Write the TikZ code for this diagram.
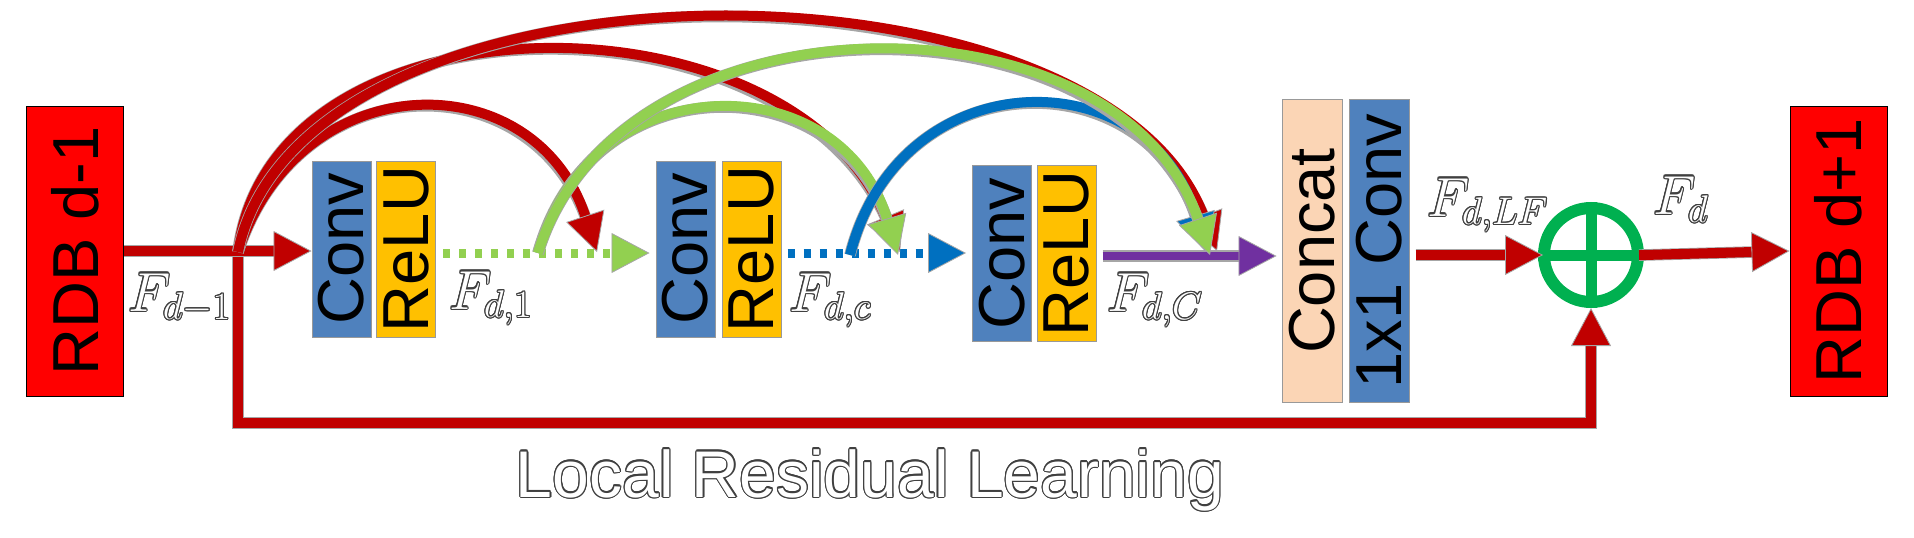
\RequirePackage{fix-cm}
\documentclass[tikz,border=0pt]{standalone}
\usepackage{fontspec}
\usepackage{contour}
\usetikzlibrary{arrows.meta}
\newfontfamily\arialfont{Liberation Sans}
\newcommand\boxfont{\arialfont\fontsize{65}{70}\selectfont}
\newcommand\flab[1]{\textcolor{white}{\contour{black!75}{$#1$}}}
\contourlength{1.1pt}
\definecolor{rdbred}{HTML}{FF0000}
\definecolor{convblue}{HTML}{4F81BD}
\definecolor{reluyellow}{HTML}{FFC000}
\definecolor{concatpeach}{HTML}{FBD5B5}
\definecolor{arred}{HTML}{C00000}
\definecolor{argreen}{HTML}{92D050}
\definecolor{arblue}{HTML}{0070C0}
\definecolor{arpurple}{HTML}{7030A0}
\definecolor{sumgreen}{HTML}{00B050}
\begin{document}
\begin{tikzpicture}[x=1pt, y=-1pt,
    blk/.style={draw=gray!80, line width=1pt, minimum width=59pt, minimum height=176pt, inner sep=0pt, font=\boxfont},
    rdb/.style={draw=black, fill=rdbred, line width=1pt, minimum width=97pt, minimum height=290pt, inner sep=0pt, font=\arialfont\fontsize{65}{70}\selectfont},
    flow/.style={draw=#1, line width=10pt, preaction={draw=gray!70, line width=11.6pt, -, shorten >=30pt}, -{Triangle[length=38pt, width=40pt, line width=0.8pt, color=gray!70, fill=#1]}},
    dotflow/.style={draw=#1, line width=9pt, dash pattern=on 7pt off 9pt, -{Triangle[length=38pt, width=40pt, line width=0.8pt, color=gray!70, fill=#1]}},
    lbl/.style={anchor=base west, inner sep=0pt, font=\fontsize{55}{60}\selectfont}]
    \useasboundingbox (0,0) rectangle (1914,538);

    % blocks
    \node[rdb] (rdbin) at (75,251) {\rotatebox{90}{RDB d-1}};
    \node[blk, fill=convblue] (conv1) at (341.5,249) {\rotatebox{90}{Conv}};
    \node[blk, fill=reluyellow] (relu1) at (406,249) {\rotatebox{90}{ReLU}};
    \node[blk, fill=convblue] (conv2) at (685.5,249) {\rotatebox{90}{Conv}};
    \node[blk, fill=reluyellow] (relu2) at (751.5,249) {\rotatebox{90}{ReLU}};
    \node[blk, fill=convblue] (conv3) at (1002,253.5) {\rotatebox{90}{Conv}};
    \node[blk, fill=reluyellow] (relu3) at (1066.5,253.5) {\rotatebox{90}{ReLU}};
    \node[blk, fill=concatpeach, minimum height=303pt, minimum width=60pt] (concat) at (1312,251) {\rotatebox{90}{Concat}};
    \node[blk, fill=convblue, minimum height=303pt, minimum width=60pt] (fuse) at (1379,251) {\rotatebox{90}{1x1 Conv}};
    \node[rdb] (rdbout) at (1838.5,251) {\rotatebox{90}{RDB d+1}};

    % sum
    \node[circle, draw=sumgreen, line width=12pt, minimum size=94pt, inner sep=0pt] (sum) at (1591,255) {};
    \draw[sumgreen, line width=11pt] (sum.north) -- (sum.south) (sum.west) -- (sum.east);

    \coordinate (lvl) at (0,253);
    \coordinate (split) at (238,252);
    \coordinate (lrl) at (238,423);
    \coordinate (g0) at (538,253);
    \coordinate (b0) at (850,255);
    \coordinate (in2r) at (597,252);
    \coordinate (in3r) at (900,252);
    \coordinate (in3g) at (898,255);
    \coordinate (incr) at (1217,251);
    \coordinate (incb) at (1206,252);
    \coordinate (incg) at (1210,255);

    % local residual learning
    \draw[flow=arred] (split) -- (lrl) -| (sum.south);

    % main chain
    \draw[flow=arred] (rdbin.east) -- (rdbin.east -| conv1.west);
    \draw[dotflow=argreen, shorten <=7pt, shorten >=6pt] (relu1.east |- lvl) -- (conv2.west |- lvl);
    \draw[dotflow=arblue, shorten <=6pt, shorten >=6pt] (relu2.east |- lvl) -- (conv3.west |- lvl);
    \draw[flow=arpurple, line width=8pt, shorten <=6pt, shorten >=5pt] (relu3.east |- 0,256) -- (concat.west |- 0,256);
    \draw[flow=arred, shorten <=6pt, shorten >=-5pt] (fuse.east |- sum) -- (sum.west);
    \draw[flow=arred, shorten <=-5pt] (sum.east) -- (rdbout.west);

    % dense connections
    \draw[flow=arred] (split) .. controls (300,62) and (535,62) .. (in2r);
    \draw[flow=arred] (split) .. controls (270,-14) and (790,-14) .. (in3r);
    \draw[flow=arred] (split) .. controls (300,-57) and (1100,-57) .. (incr);
    \draw[flow=argreen] (g0) .. controls (590,63) and (840,63) .. (in3g);
    \draw[flow=arblue] (b0) .. controls (900,58) and (1150,58) .. (incb);
    \draw[flow=argreen] (g0) .. controls (620,-14) and (1120,-14) .. (incg);

    % labels
    \node[lbl] (fdm1) at (128,311) {\flab{F_{d-1}}};
    \node[lbl] (fd1) at (449,309) {\flab{F_{d,1}}};
    \node[lbl] (fdc) at (789,311) {\flab{F_{d,c}}};
    \node[lbl] (fdC) at (1107,311) {\flab{F_{d,C}}};
    \node[lbl] (fdlf) at (1427,216) {\flab{F_{d,LF}}};
    \node[lbl] (fdout) at (1653,214) {\flab{F_d}};
    \node[anchor=base, inner sep=0pt, font=\arialfont\fontsize{66}{70}\selectfont] (lrltext) at (870,497) {\textcolor{white}{\contour{black!75}{Local Residual Learning}}};
\end{tikzpicture}
\end{document}
